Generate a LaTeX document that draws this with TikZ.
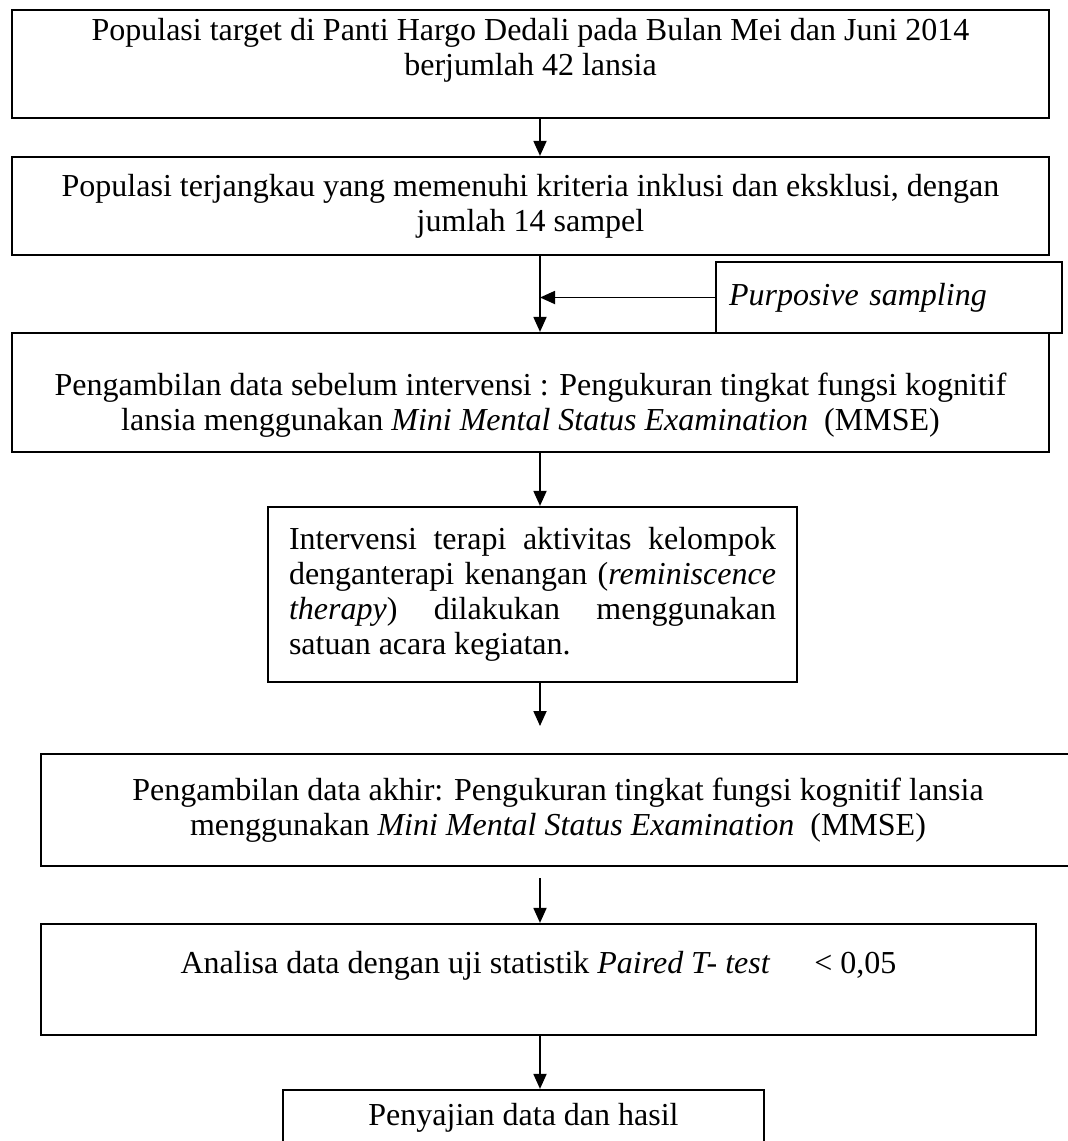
\documentclass[tikz,border=0pt]{standalone}
\usepackage{fontspec}
\setmainfont{Liberation Serif}
\usetikzlibrary{arrows.meta}
\begin{document}
\begin{tikzpicture}[x=1bp,y=-1bp,
  box/.style={draw,rectangle,line width=2.2bp,inner sep=0pt,align=center,font=\fontsize{32bp}{35bp}\selectfont},
  flow/.style={-{Triangle[length=15bp,width=13bp]},line width=1.8bp}]
\useasboundingbox (0,0) rectangle (1068,1141);

\node (B1) at (530.5,64)[box,minimum width=1037bp,minimum height=108bp] {Populasi target di Panti Hargo Dedali pada Bulan Mei dan Juni 2014\\berjumlah 42 lansia\\ \mbox{}};
\node (B2) at (530.5,206)[box,minimum width=1037bp,minimum height=98bp] {Populasi terjangkau yang memenuhi kriteria inklusi dan eksklusi, dengan\\jumlah 14 sampel};
\node (Samp) at (889,297.5)[box,minimum width=346bp,minimum height=71bp,text width=320bp,inner xsep=13bp,align=left] {\textit{Purposive sampling}};
\node (B3) at (530.5,392.5)[box,minimum width=1037bp,minimum height=119bp] {\rule{0pt}{48bp}Pengambilan data sebelum intervensi : Pengukuran tingkat fungsi kognitif\\lansia menggunakan \textit{Mini Mental Status Examination}\ \ (MMSE)};
\node (B4) at (532.5,594.5)[box,minimum width=529bp,minimum height=175bp,text width=487bp,inner xsep=21bp,align=justify] {Intervensi terapi aktivitas kelompok\linebreak denganterapi kenangan (\textit{reminiscence}\linebreak \textit{therapy}) dilakukan menggunakan\linebreak satuan acara kegiatan.};
\node (B5) at (558,810)[box,minimum width=1034bp,minimum height=112bp] {Pengambilan data akhir: Pengukuran tingkat fungsi kognitif lansia\\menggunakan \textit{Mini Mental Status Examination}\ \ (MMSE)};
\node (B6) at (538.5,979.5)[box,minimum width=995bp,minimum height=111bp] {Analisa data dengan uji statistik \textit{Paired T- test}\hspace{44bp}< 0,05\\ \mbox{}};
\node (B7) at (523.5,1118)[box,minimum width=481bp,minimum height=56bp] {Penyajian data dan hasil};

\coordinate (Ax) at (540,0);
\coordinate (E4) at (540,726);
\coordinate (S5) at (540,878);
\draw [flow] (B1.south -| Ax) -- (B2.north -| Ax);
\draw [flow] (B2.south -| Ax) -- (B3.north -| Ax);
\draw [flow] (Samp.west) -- (Samp.west -| Ax);
\draw [flow] (B3.south -| Ax) -- (B4.north -| Ax);
\draw [flow] (B4.south -| Ax) -- (E4);
\draw [flow] (S5) -- (B6.north -| Ax);
\draw [flow] (B6.south -| Ax) -- (B7.north -| Ax);
\end{tikzpicture}
\end{document}
